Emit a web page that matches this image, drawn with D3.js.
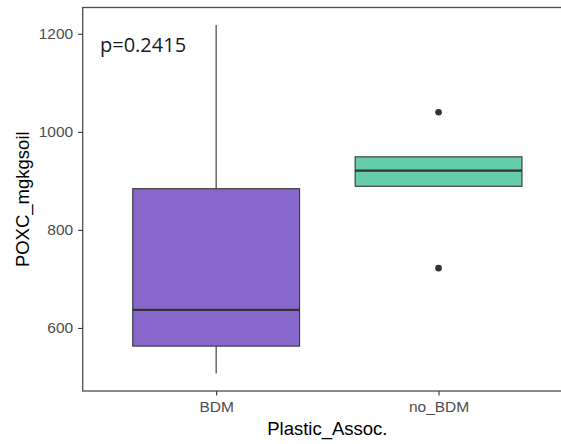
<!DOCTYPE html>
<html>
<head>
<meta charset="utf-8">
<script src="https://cdn.jsdelivr.net/npm/d3@7"></script>
<style>
  html, body { margin: 0; padding: 0; background: #fff; }
  svg { display: block; }
</style>
</head>
<body>
<svg id="chart" width="561" height="444"></svg>
<script>
// Box-plot summaries of POXC (mg/kg soil) by plastic association group
const categories = ["BDM", "no_BDM"];
const whiskerLow = [507, 889];
const q1 = [563, 889];
const median = [637, 921];
const q3 = [884, 949];
const whiskerHigh = [1218, 949];
const outliers = [[], [1040, 722]];
const fills = ["#8968CD", "#66CDAA"];
const yTicks = [600, 800, 1000, 1200];
const pLabel = "p=0.2415";

const svg = d3.select("#chart");
const panel = { left: 82.7, right: 572, top: 7.5, bottom: 391 };

// y domain: data range with 5% expansion on both sides
const allVals = whiskerLow.concat(whiskerHigh, outliers.flat());
const lo = d3.min(allVals), hi = d3.max(allVals);
const pad = (hi - lo) * 0.05;
const y = d3.scaleLinear().domain([lo - pad, hi + pad]).range([panel.bottom, panel.top]);
const x = d3.scalePoint().domain(categories).range([panel.left, panel.right]).padding(0.6);
const boxW = x.step() * 0.75;

const data = categories.map((c, i) => ({
  cat: c, lo: whiskerLow[i], q1: q1[i], med: median[i], q3: q3[i], hi: whiskerHigh[i],
  out: outliers[i], fill: fills[i]
}));

const g = svg.append("g");

// whiskers
g.selectAll("line.wlo").data(data).join("line")
  .attr("x1", d => x(d.cat)).attr("x2", d => x(d.cat))
  .attr("y1", d => y(d.lo)).attr("y2", d => y(d.q1))
  .attr("stroke", "#333").attr("stroke-width", 1.1);
g.selectAll("line.whi").data(data).join("line")
  .attr("x1", d => x(d.cat)).attr("x2", d => x(d.cat))
  .attr("y1", d => y(d.q3)).attr("y2", d => y(d.hi))
  .attr("stroke", "#333").attr("stroke-width", 1.1);

// boxes
g.selectAll("rect.box").data(data).join("rect")
  .attr("x", d => x(d.cat) - boxW / 2).attr("width", boxW)
  .attr("y", d => y(d.q3)).attr("height", d => y(d.q1) - y(d.q3))
  .attr("fill", d => d.fill).attr("stroke", "#333").attr("stroke-width", 1.1);

// medians
g.selectAll("line.med").data(data).join("line")
  .attr("x1", d => x(d.cat) - boxW / 2).attr("x2", d => x(d.cat) + boxW / 2)
  .attr("y1", d => y(d.med)).attr("y2", d => y(d.med))
  .attr("stroke", "#333").attr("stroke-width", 2.3);

// outliers
data.forEach(d => {
  g.selectAll(null).data(d.out).join("circle")
    .attr("cx", x(d.cat)).attr("cy", v => y(v)).attr("r", 3.3)
    .attr("fill", "#333");
});

// panel border
svg.append("rect")
  .attr("x", panel.left).attr("y", panel.top)
  .attr("width", panel.right - panel.left).attr("height", panel.bottom - panel.top)
  .attr("fill", "none").attr("stroke", "#4d4d4d").attr("stroke-width", 1.3);

// axes
const yAxis = svg.append("g").attr("transform", `translate(${panel.left},0)`)
  .call(d3.axisLeft(y).tickValues(yTicks).tickFormat(d3.format("d")).tickSize(4.5).tickPadding(5));
const xAxis = svg.append("g").attr("transform", `translate(0,${panel.bottom})`)
  .call(d3.axisBottom(x).tickSize(4.5).tickPadding(5));
[yAxis, xAxis].forEach(a => {
  a.select(".domain").remove();
  a.selectAll(".tick line").attr("stroke", "#333").attr("stroke-width", 1.1);
  a.selectAll(".tick text").attr("fill", "#4D4D4D")
    .style("font-family", "'Liberation Sans', Arial, sans-serif").style("font-size", "15.5px");
});

// axis titles
svg.append("text")
  .attr("x", (panel.left + 561 + 11) / 2).attr("y", 435)
  .attr("text-anchor", "middle").attr("fill", "#000")
  .style("font-family", "'Liberation Sans', Arial, sans-serif").style("font-size", "18.5px")
  .text("Plastic_Assoc.");
svg.append("text")
  .attr("transform", `translate(29,${(panel.top + panel.bottom) / 2}) rotate(-90)`)
  .attr("text-anchor", "middle").attr("fill", "#000")
  .style("font-family", "'Liberation Sans', Arial, sans-serif").style("font-size", "18.5px")
  .text("POXC_mgkgsoil");

// p-value annotation
svg.append("text")
  .attr("x", 100).attr("y", 51.5).attr("fill", "#1a1a1a")
  .style("font-family", "'Open Sans', sans-serif").style("font-size", "20px")
  .text(pLabel);
</script>
</body>
</html>
